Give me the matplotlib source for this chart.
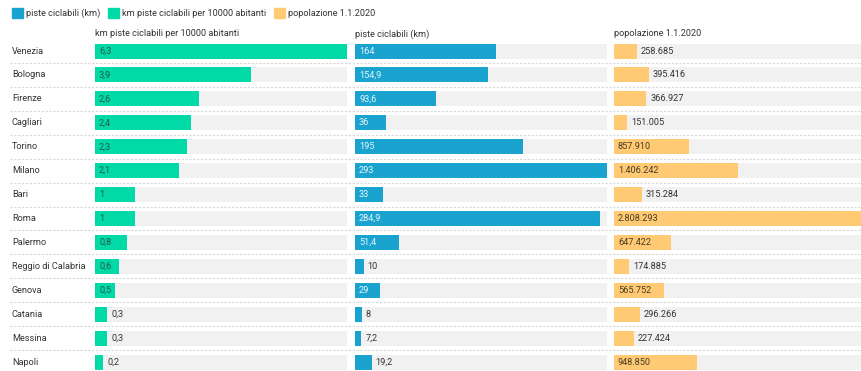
import numpy as np
import matplotlib
matplotlib.use("Agg")
import matplotlib.pyplot as plt
from matplotlib.patches import Patch

plt.rcParams['font.family'] = ['Roboto', 'DejaVu Sans']

cities = ["Venezia", "Bologna", "Firenze", "Cagliari", "Torino", "Milano", "Bari",
          "Roma", "Palermo", "Reggio di Calabria", "Genova", "Catania", "Messina", "Napoli"]
km_per_10000 = [6.3, 3.9, 2.6, 2.4, 2.3, 2.1, 1, 1, 0.8, 0.6, 0.5, 0.3, 0.3, 0.2]
km_piste = [164, 154.9, 93.6, 36, 195, 293, 33, 284.9, 51.4, 10, 29, 8, 7.2, 19.2]
popolazione = [258685, 395416, 366927, 151005, 857910, 1406242, 315284, 2808293,
               647422, 174885, 565752, 296266, 227424, 948850]

titles = ["km piste ciclabili per 10000 abitanti", "piste ciclabili (km)", "popolazione 1.1.2020"]
legend_labels = ["piste ciclabili (km)", "km piste ciclabili per 10000 abitanti", "popolazione 1.1.2020"]

GREEN = "#01d9a6"
BLUE = "#1ba3d0"
ORANGE = "#ffca73"
TRACK = "#f1f1f1"
TEXT = "#333333"
FS = 6.6


def fmt_dec(v):
    s = f"{v:g}"
    return s.replace(".", ",")


def fmt_int(v):
    return f"{v:,}".replace(",", ".")


W, H = 861, 371
fig = plt.figure(figsize=(W / 100, H / 100), dpi=100)

n = len(cities)
row_h = 23.93
top_px = 51 - 0.5 * row_h
bot_px = top_px + n * row_h
ax_bottom = (H - bot_px) / H
ax_height = (bot_px - top_px) / H

# background axes for the row separators and city names
bg = fig.add_axes([0, ax_bottom, 1, ax_height])
bg.set_xlim(0, W)
bg.set_ylim(n - 0.5, -0.5)
bg.axis("off")
for i in range(n):
    bg.plot([10, W], [i + 0.5, i + 0.5], color="#d8d8d8", lw=0.8,
            ls=(0, (2, 1.5)))
    bg.text(12, i, cities[i], ha="left", va="center", fontsize=FS, color=TEXT)

panels = [
    (95, 347, km_per_10000, GREEN, "#215a4c", fmt_dec, titles[0]),
    (355, 607, km_piste, BLUE, "#e6f5fb", fmt_dec, titles[1]),
    (614, 861, popolazione, ORANGE, "#4a3b22", fmt_int, titles[2]),
]

renderer = fig.canvas.get_renderer()
bar_h = 15 / row_h
y = np.arange(n)

for x0, x1, vals, col, incol, fmt, title in panels:
    ax = fig.add_axes([x0 / W, ax_bottom, (x1 - x0) / W, ax_height])
    vmax = max(vals)
    ax.set_xlim(0, vmax)
    ax.set_ylim(n - 0.5, -0.5)
    ax.axis("off")
    ax.barh(y, [vmax] * n, height=bar_h, color=TRACK, lw=0)
    ax.barh(y, vals, height=bar_h, color=col, lw=0)
    width_px = x1 - x0
    for i, v in enumerate(vals):
        s = fmt(v)
        t = ax.text(0, 0, s, fontsize=FS)
        tw = t.get_window_extent(renderer).width
        t.remove()
        bar_px = v / vmax * width_px
        # label sits inside the bar when it fits, otherwise right after it
        if bar_px > tw + 5:
            ax.annotate(s, (0, i), xytext=(4, 0), textcoords="offset pixels",
                        ha="left", va="center", fontsize=FS, color=incol)
        else:
            ax.annotate(s, (v, i), xytext=(4, 0), textcoords="offset pixels",
                        ha="left", va="center", fontsize=FS, color=TEXT)
    fig.text(x0 / W, 1 - 34 / H, title, ha="left", va="center", fontsize=FS, color=TEXT)

handles = [Patch(color=BLUE), Patch(color=GREEN), Patch(color=ORANGE)]
fig.legend(handles, legend_labels, loc="center left", bbox_to_anchor=(12 / W, 1 - 13 / H),
           ncol=3, frameon=False, fontsize=FS, handlelength=1.25, handleheight=1.25,
           handletextpad=0.3, columnspacing=0.8, labelcolor=TEXT, borderaxespad=0,
           borderpad=0)

fig.savefig("out.png", dpi=100, facecolor="white")
